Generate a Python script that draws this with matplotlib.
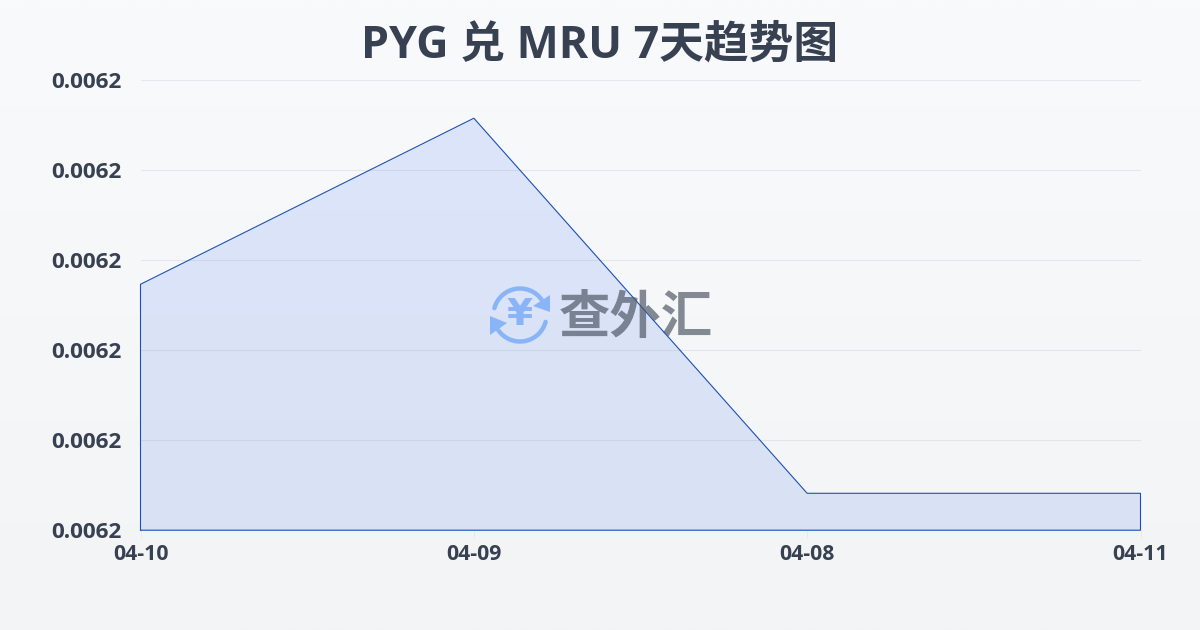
#!/usr/bin/env python3
import numpy as np
import matplotlib
matplotlib.use('Agg')
import matplotlib.pyplot as plt
from matplotlib.patches import Arc, Polygon
from matplotlib.ticker import FormatStrFormatter

plt.rcParams['font.family'] = ['Open Sans', 'Noto Sans CJK SC', 'DejaVu Sans']

dates = ['04-10', '04-09', '04-08', '04-11']
rates = [0.00620093, 0.00620831, 0.00619164, 0.00619164]
y_ticks = [0.00619, 0.006194, 0.006198, 0.006202, 0.006206, 0.00621]

TEXT = '#374151'
W, H = 1200, 630

fig = plt.figure(figsize=(W / 100, H / 100), dpi=100)

# page background, light vertical gradient
bg = fig.add_axes([0, 0, 1, 1], zorder=0)
bg.imshow(np.linspace(0, 1, 256).reshape(-1, 1), aspect='auto', extent=[0, W, H, 0],
          cmap=matplotlib.colors.LinearSegmentedColormap.from_list('bg', ['#f9fafc', '#f3f4f6']))
bg.set_xlim(0, W)
bg.set_ylim(H, 0)
bg.axis('off')

ax = fig.add_axes([140.5 / W, 1 - 530.2 / H, 1000 / W, 450 / H], zorder=1)
ax.patch.set_alpha(0)
x = np.arange(len(dates))
ax.fill_between(x, rates, y_ticks[0], color='#2563eb', alpha=0.13, linewidth=0, zorder=2)
# outline runs down both sides and along the bottom
ax.plot(np.r_[x[0], x, x[-1], x[0]], np.r_[y_ticks[0], rates, y_ticks[0], y_ticks[0]],
        color='#1d4fb8', linewidth=0.8, zorder=3, clip_on=False)

ax.set_xlim(x[0], x[-1])
ax.set_ylim(y_ticks[0], y_ticks[-1])
ax.set_xticks(x, dates)
ax.set_yticks(y_ticks)
ax.yaxis.set_major_formatter(FormatStrFormatter('%.4f'))
ax.grid(axis='y', color='#1f2937', alpha=0.08, linewidth=0.8, zorder=1)
for s in ax.spines.values():
    s.set_visible(False)
ax.tick_params(axis='x', length=6, width=0.6, color='#e5e7eb', pad=4, labelsize=15.3, labelcolor=TEXT)
ax.tick_params(axis='y', length=0, pad=13.5, labelsize=16.2, labelcolor=TEXT)
for lab in ax.get_xticklabels() + ax.get_yticklabels():
    lab.set_fontweight('bold')
    lab.set_y(lab.get_position()[1])

fig.text(0.5, 1 - 46 / H, 'PYG 兑 MRU 7天趋势图', ha='center', va='center',
         fontsize=32.2, fontweight='bold', color=TEXT)

# watermark, drawn in pixel coordinates over the chart
wm = fig.add_axes([0, 0, 1, 1], zorder=2)
wm.set_xlim(0, W)
wm.set_ylim(H, 0)
wm.axis('off')
BLUE = '#8ab4f8'
cx, cy = 520, 315
wm.add_patch(Arc((cx, cy), 53, 53, theta1=195, theta2=325, color=BLUE, lw=3.2, capstyle='round'))
wm.add_patch(Arc((cx, cy), 53, 53, theta1=15, theta2=145, color=BLUE, lw=3.2, capstyle='round'))
wm.add_patch(Polygon([[550, 295], [550, 312], [533, 306]], color=BLUE, lw=0))
wm.add_patch(Polygon([[490, 335], [490, 316], [507, 323]], color=BLUE, lw=0))
wm.text(cx, cy, '¥', ha='center', va='center', fontsize=27, fontweight='bold', color=BLUE,
        family=['DejaVu Sans'])
wm.text(636, 320, '查外汇', ha='center', va='center', fontsize=37, fontweight='bold',
        color='#4b5563', alpha=0.68)

fig.savefig('out.png', dpi=100)
